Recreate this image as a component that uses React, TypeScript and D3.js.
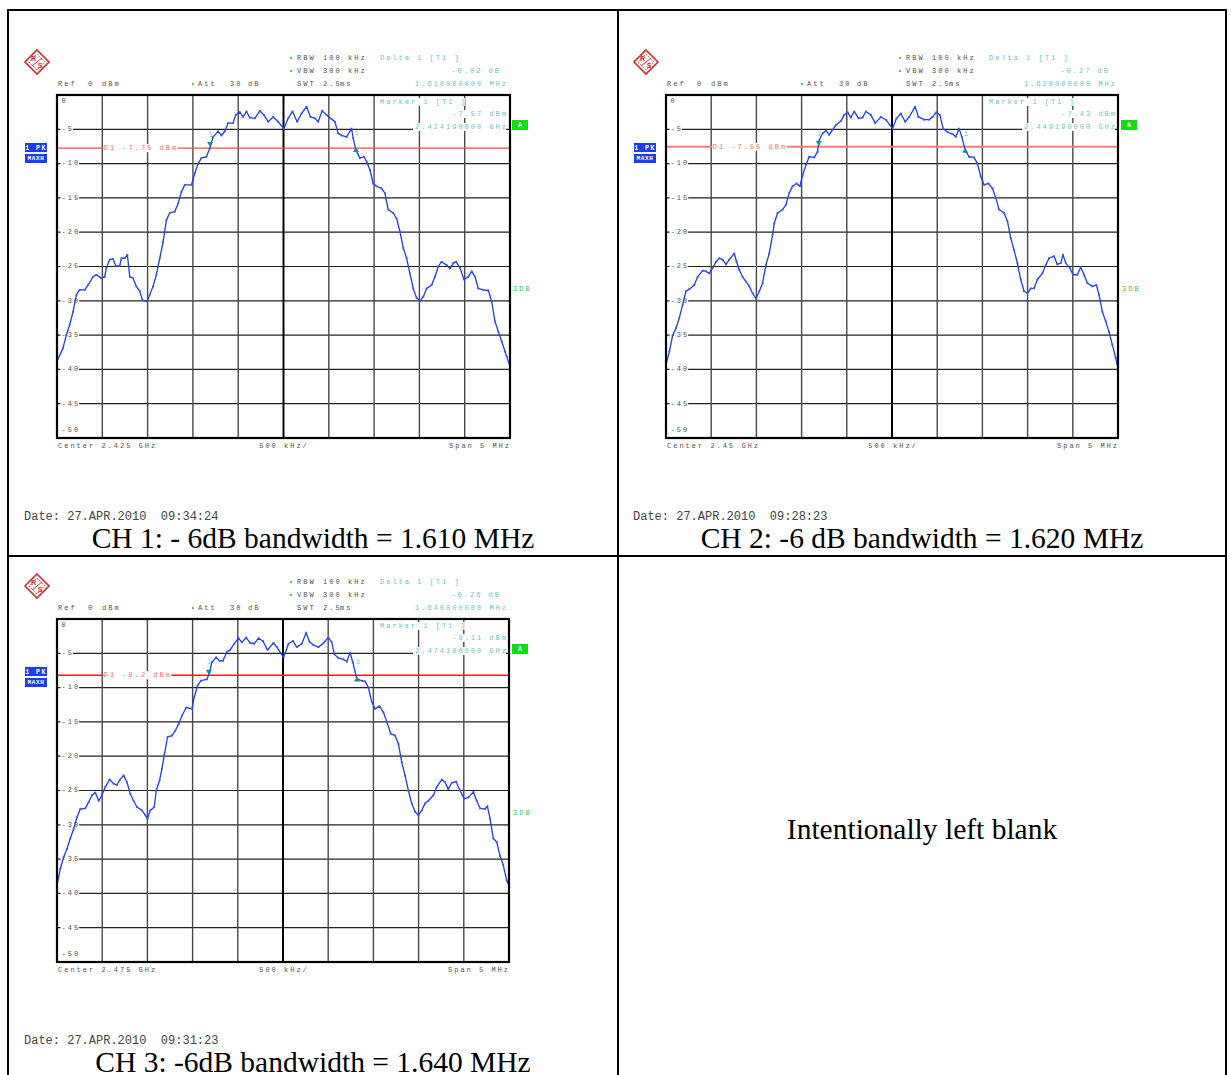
import React from "react";
import * as d3 from "d3";

// ---------------- data ----------------
const Y_TICKS = [0, -5, -10, -15, -20, -25, -30, -35, -40, -45, -50];
const X_DIVS = [-2.5, -2.0, -1.5, -1.0, -0.5, 0, 0.5, 1.0, 1.5, 2.0, 2.5]; // MHz offset, 500 kHz/div

const CH1_FREQ = [-2.5, -2.434, -2.397, -2.36, -2.323, -2.286, -2.25, -2.194, -2.158, -2.102, -2.066, -2.01, -1.973, -1.955, -1.919, -1.881, -1.852, -1.808, -1.789, -1.753, -1.723, -1.697, -1.661, -1.624, -1.587, -1.557, -1.506, -1.476, -1.44, -1.403, -1.366, -1.329, -1.292, -1.256, -1.2, -1.163, -1.126, -1.09, -1.016, -0.979, -0.943, -0.906, -0.851, -0.814, -0.777, -0.722, -0.685, -0.648, -0.611, -0.556, -0.527, -0.482, -0.446, -0.409, -0.372, -0.317, -0.261, -0.217, -0.169, -0.114, -0.059, 0.004, 0.052, 0.099, 0.151, 0.199, 0.254, 0.298, 0.346, 0.383, 0.427, 0.475, 0.53, 0.567, 0.604, 0.641, 0.696, 0.751, 0.769, 0.799, 0.843, 0.887, 0.917, 0.954, 0.99, 1.027, 1.082, 1.119, 1.156, 1.211, 1.248, 1.285, 1.322, 1.359, 1.395, 1.432, 1.469, 1.506, 1.543, 1.58, 1.635, 1.672, 1.708, 1.745, 1.8, 1.837, 1.874, 1.904, 1.948, 1.992, 2.04, 2.077, 2.114, 2.15, 2.205, 2.261, 2.298, 2.334, 2.371, 2.408, 2.445, 2.463, 2.5];
const CH1_LEVEL = [-38.8, -36.9, -35.0, -33.5, -31.6, -29.1, -28.4, -28.4, -27.7, -26.5, -26.2, -26.7, -26.5, -25.2, -24.0, -23.9, -24.9, -24.9, -23.8, -23.8, -23.3, -26.5, -26.7, -27.9, -28.6, -29.9, -30.1, -29.1, -27.9, -26.2, -23.8, -21.4, -18.2, -17.2, -17.0, -15.8, -14.1, -13.1, -13.1, -11.4, -10.0, -9.2, -9.0, -7.8, -6.1, -5.3, -5.9, -5.3, -4.1, -4.1, -2.9, -2.5, -3.2, -2.4, -3.3, -3.4, -2.3, -2.9, -3.9, -3.2, -3.9, -4.9, -3.4, -2.4, -3.9, -2.7, -1.7, -3.2, -3.4, -3.9, -2.3, -2.9, -3.5, -3.9, -5.6, -5.9, -6.1, -4.9, -6.3, -8.0, -9.2, -9.0, -9.7, -10.9, -12.9, -13.3, -13.6, -14.3, -16.7, -17.2, -18.0, -19.9, -22.3, -23.8, -26.0, -28.2, -29.6, -30.0, -29.4, -28.2, -27.7, -26.5, -25.0, -24.3, -24.8, -25.3, -24.5, -24.3, -25.2, -26.9, -26.5, -25.7, -26.5, -28.2, -28.4, -28.5, -30.1, -33.0, -34.5, -35.9, -37.4, -38.1, -39.6];

const CH2_FREQ = [-2.5, -2.463, -2.426, -2.389, -2.353, -2.316, -2.279, -2.242, -2.187, -2.15, -2.095, -2.058, -2.021, -1.984, -1.947, -1.91, -1.874, -1.837, -1.8, -1.745, -1.719, -1.689, -1.653, -1.616, -1.579, -1.542, -1.505, -1.468, -1.431, -1.395, -1.358, -1.321, -1.302, -1.266, -1.21, -1.174, -1.137, -1.1, -1.056, -1.019, -0.989, -0.952, -0.916, -0.86, -0.824, -0.805, -0.768, -0.731, -0.695, -0.658, -0.621, -0.566, -0.529, -0.492, -0.455, -0.418, -0.37, -0.326, -0.289, -0.234, -0.186, -0.123, -0.068, 0.006, 0.05, 0.098, 0.146, 0.19, 0.256, 0.293, 0.356, 0.411, 0.448, 0.492, 0.529, 0.566, 0.613, 0.669, 0.706, 0.742, 0.772, 0.809, 0.853, 0.908, 0.945, 0.982, 1.019, 1.067, 1.111, 1.148, 1.185, 1.24, 1.277, 1.314, 1.35, 1.387, 1.424, 1.461, 1.498, 1.535, 1.571, 1.608, 1.664, 1.7, 1.737, 1.793, 1.829, 1.866, 1.892, 1.922, 1.966, 2.003, 2.051, 2.087, 2.124, 2.161, 2.216, 2.261, 2.29, 2.327, 2.364, 2.4, 2.437, 2.474, 2.5];
const CH2_LEVEL = [-39.3, -37.4, -35.0, -34.0, -32.5, -30.6, -28.6, -28.3, -27.7, -26.5, -25.6, -25.7, -26.0, -25.2, -24.3, -23.8, -24.0, -24.7, -24.0, -23.1, -24.3, -25.5, -26.5, -27.2, -27.9, -28.9, -29.7, -28.6, -27.4, -24.8, -23.1, -20.4, -18.7, -17.2, -16.7, -16.0, -14.3, -13.3, -12.9, -13.3, -11.7, -10.2, -9.0, -9.1, -8.3, -6.6, -5.6, -5.2, -5.8, -5.1, -4.4, -3.8, -2.9, -2.5, -3.3, -2.4, -3.4, -3.3, -2.4, -2.9, -4.1, -3.2, -3.6, -4.9, -3.4, -2.7, -3.9, -3.2, -1.7, -3.2, -3.6, -3.6, -3.2, -2.5, -2.9, -4.9, -5.4, -5.7, -6.1, -4.9, -6.1, -8.0, -9.0, -9.1, -10.0, -11.9, -13.1, -12.9, -13.6, -15.0, -16.7, -17.2, -18.4, -20.9, -22.6, -24.5, -26.9, -28.6, -28.9, -28.2, -28.2, -26.9, -26.0, -24.8, -23.8, -23.5, -24.7, -24.5, -23.3, -24.5, -25.2, -26.2, -26.2, -25.1, -26.2, -27.4, -27.9, -27.7, -29.1, -31.6, -33.0, -34.5, -36.4, -38.3, -39.8];

const CH3_FREQ = [-2.5, -2.463, -2.426, -2.389, -2.353, -2.316, -2.279, -2.242, -2.187, -2.15, -2.113, -2.076, -2.039, -2.003, -1.966, -1.918, -1.874, -1.837, -1.807, -1.763, -1.726, -1.689, -1.653, -1.616, -1.56, -1.524, -1.498, -1.468, -1.424, -1.402, -1.365, -1.339, -1.314, -1.277, -1.229, -1.192, -1.155, -1.118, -1.07, -1.008, -0.982, -0.945, -0.908, -0.842, -0.812, -0.787, -0.739, -0.702, -0.665, -0.621, -0.584, -0.54, -0.492, -0.455, -0.407, -0.363, -0.319, -0.271, -0.223, -0.171, -0.105, -0.068, 0.006, 0.061, 0.109, 0.153, 0.208, 0.256, 0.293, 0.337, 0.392, 0.448, 0.503, 0.54, 0.566, 0.613, 0.669, 0.706, 0.742, 0.772, 0.816, 0.871, 0.908, 0.945, 0.982, 1.019, 1.067, 1.111, 1.148, 1.192, 1.24, 1.277, 1.314, 1.35, 1.387, 1.424, 1.461, 1.498, 1.535, 1.571, 1.608, 1.664, 1.7, 1.756, 1.793, 1.829, 1.866, 1.914, 1.958, 2.003, 2.051, 2.106, 2.143, 2.179, 2.235, 2.261, 2.29, 2.327, 2.364, 2.4, 2.437, 2.474, 2.5];
const CH3_LEVEL = [-38.8, -36.4, -34.7, -33.5, -32.0, -30.6, -28.9, -27.7, -27.6, -26.7, -25.7, -25.3, -26.5, -25.7, -24.5, -23.4, -24.0, -24.2, -23.5, -22.8, -23.8, -25.5, -26.5, -27.4, -27.9, -28.6, -29.1, -27.9, -27.4, -25.0, -23.5, -21.8, -19.9, -17.2, -17.0, -16.3, -15.3, -14.1, -12.9, -13.1, -11.4, -9.7, -9.0, -8.8, -7.8, -6.3, -5.6, -6.1, -6.1, -4.8, -4.5, -3.6, -2.8, -3.4, -2.7, -3.5, -3.6, -2.8, -3.2, -4.5, -3.5, -4.1, -5.6, -3.6, -3.2, -4.1, -3.6, -2.0, -3.3, -3.8, -4.1, -3.5, -2.7, -3.4, -5.1, -5.7, -5.9, -6.2, -4.9, -6.3, -8.7, -9.0, -9.1, -10.0, -12.1, -13.1, -12.7, -13.6, -15.0, -16.7, -17.0, -18.2, -20.9, -22.8, -25.0, -26.9, -28.1, -28.6, -27.9, -26.9, -26.5, -25.7, -24.5, -23.4, -23.8, -24.8, -23.9, -23.7, -25.0, -26.2, -26.0, -25.2, -26.5, -27.6, -27.7, -27.3, -29.1, -32.0, -32.5, -34.5, -35.9, -38.1, -38.8];

const CENTER_LABELS = ["Center 2.425 GHz", "Center 2.45 GHz", "Center 2.475 GHz"];
const DELTA_DB = ["-0.02 dB", "-0.27 dB", "-0.26 dB"];
const DELTA_FREQ = ["1.610000000 MHz", "1.620000000 MHz", "1.640000000 MHz"];
const MARKER_LEVEL_TXT = ["-7.57 dBm", "-7.43 dBm", "-8.11 dBm"];
const MARKER_FREQ_TXT = ["2.424190000 GHz", "2.449190000 GHz", "2.474180000 GHz"];
const MARKER_FREQ = [-0.81, -0.81, -0.82]; // MHz offset from center
const MARKER_LEVEL = [-7.57, -7.43, -8.11];
const DELTA_OFFSET = [1.61, 1.62, 1.64];
const DELTA_LEVEL = [-0.02, -0.27, -0.26];
const DISPLAY_LINE = [-7.75, -7.55, -8.2];
const DISPLAY_LINE_TXT = ["D1 -7.75 dBm", "D1 -7.55 dBm", "D1 -8.2 dBm"];
const DATES = ["Date: 27.APR.2010  09:34:24", "Date: 27.APR.2010  09:28:23", "Date: 27.APR.2010  09:31:23"];
const CAPTIONS = ["CH 1: - 6dB bandwidth = 1.610 MHz", "CH 2: -6 dB bandwidth = 1.620 MHz", "CH 3: -6dB bandwidth = 1.640 MHz"];

// ---------------- styles ----------------
const MONO = "'Liberation Mono', 'DejaVu Sans Mono', monospace";
const SERIF = "'Liberation Serif', 'Times New Roman', serif";
const GREY = "#505050";
const TEAL_TXT = "#66c4c4";
const FS = 7;
const LS = 2.0;
const CW = FS * 0.6 + LS; // small char advance

function Small({ x, y, children, anchor = "start", fill = GREY, weight = "normal" }: any) {
  const dx = anchor === "end" ? LS : anchor === "middle" ? LS / 2 : 0;
  return (
    <text x={x + dx} y={y} fontSize={FS} letterSpacing={LS} fontFamily={MONO} fill={fill}
      dominantBaseline="middle" textAnchor={anchor} fontWeight={weight} style={{ whiteSpace: "pre" }}>
      {children}
    </text>
  );
}

function Logo({ cx, cy }: any) {
  const r = 12;
  const c = "#d42a2a";
  return (
    <g>
      <polygon points={`${cx},${cy - r} ${cx + r},${cy} ${cx},${cy + r} ${cx - r},${cy}`} fill="none" stroke={c} strokeWidth={1.6} />
      <polygon points={`${cx},${cy - r + 4} ${cx + r - 4},${cy} ${cx},${cy + r - 4} ${cx - r + 4},${cy}`} fill="none" stroke={c} strokeWidth={0.8} strokeDasharray="1.5 1" />
      <text x={cx - 3.5} y={cy - 1.5} fontSize={7} fontFamily="'Liberation Sans', sans-serif" fontWeight="bold" fill={c} textAnchor="middle">R</text>
      <text x={cx + 3} y={cy + 6} fontSize={7} fontFamily="'Liberation Sans', sans-serif" fontWeight="bold" fill={c} textAnchor="middle">S</text>
      <line x1={cx - 5} y1={cy + 4} x2={cx + 5} y2={cy - 4} stroke={c} strokeWidth={1} />
    </g>
  );
}

function Panel({ idx, left, top, width, height, freq, level, lineColor, lineWidth }: any) {
  const x = d3.scaleLinear().domain([-2.5, 2.5]).range([left, left + width]);
  const y = d3.scaleLinear().domain([0, -50]).range([top, top + height]);
  const pts: [number, number][] = freq.map((f: number, i: number) => [f, level[i]]);
  const path = d3.line<[number, number]>().x((d) => x(d[0])).y((d) => y(d[1]))(pts) || "";
  const R = left + 449;

  const mx = x(MARKER_FREQ[idx]);
  const my = y(MARKER_LEVEL[idx]);
  const dxm = x(MARKER_FREQ[idx] + DELTA_OFFSET[idx]);
  const dym = y(MARKER_LEVEL[idx] + DELTA_LEVEL[idx]);
  const dl = y(DISPLAY_LINE[idx]);
  const dlTxt = DISPLAY_LINE_TXT[idx];
  const mColor = "#178f8f";

  return (
    <g>
      <Logo cx={left - 20} cy={top - 33} />
      {/* header */}
      <Small x={left + 1} y={top - 11}>Ref</Small>
      <Small x={left + 31} y={top - 11}>0</Small>
      <Small x={left + 45} y={top - 11}>dBm</Small>
      <circle cx={left + 136} cy={top - 11} r={1} fill="#22bb22" />
      <Small x={left + 141} y={top - 11}>Att</Small>
      <Small x={left + 173} y={top - 11}>30</Small>
      <Small x={left + 191} y={top - 11}>dB</Small>
      <circle cx={left + 234} cy={top - 37} r={1} fill="#22bb22" />
      <circle cx={left + 234} cy={top - 24} r={1} fill="#22bb22" />
      <Small x={left + 240} y={top - 37}>RBW</Small>
      <Small x={left + 266} y={top - 37}>100</Small>
      <Small x={left + 291} y={top - 37}>kHz</Small>
      <Small x={left + 240} y={top - 24}>VBW</Small>
      <Small x={left + 266} y={top - 24}>300</Small>
      <Small x={left + 291} y={top - 24}>kHz</Small>
      <Small x={left + 240} y={top - 11}>SWT</Small>
      <Small x={left + 266} y={top - 11}>2.5</Small>
      <Small x={left + 283} y={top - 11}>ms</Small>
      <Small x={left + 323} y={top - 37} fill={TEAL_TXT}>{"Delta 1 [T1 ]"}</Small>
      <Small x={left + 442} y={top - 24} fill={TEAL_TXT} anchor="end">{DELTA_DB[idx]}</Small>
      <Small x={R} y={top - 11} fill={TEAL_TXT} anchor="end">{DELTA_FREQ[idx]}</Small>

      {/* grid */}
      {Y_TICKS.slice(1, -1).map((t) => (
        <line key={"h" + t} x1={left} x2={left + width} y1={y(t)} y2={y(t)} stroke="#222" strokeWidth={1.2} />
      ))}
      {X_DIVS.slice(1, -1).map((f) => (
        <line key={"v" + f} x1={x(f)} x2={x(f)} y1={top} y2={top + height}
          stroke={f === 0 ? "#000" : "#4a4a4a"} strokeWidth={f === 0 ? 2 : 1.4} />
      ))}

      {/* marker info block */}
      <rect x={left + 321} y={top + 3} width={14 * CW} height={8} fill="#fff" />
      <rect x={R - 9 * CW} y={top + 15} width={9 * CW} height={8} fill="#fff" />
      <rect x={R - 15 * CW} y={top + 28} width={15 * CW} height={8} fill="#fff" />
      <Small x={left + 323} y={top + 7} fill={TEAL_TXT}>{"Marker 1 [T1 ]"}</Small>
      <Small x={R} y={top + 19} fill={TEAL_TXT} anchor="end">{MARKER_LEVEL_TXT[idx]}</Small>
      <Small x={R} y={top + 32} fill={TEAL_TXT} anchor="end">{MARKER_FREQ_TXT[idx]}</Small>

      {/* y labels */}
      {Y_TICKS.map((t) => {
        const ty = t === 0 ? top + 6.5 : t === -50 ? top + height - 8 : y(t);
        const s = String(t);
        return (
          <g key={"yl" + t}>
            {t !== 0 && t !== -50 && <rect x={left + 3.5} y={ty - 3.5} width={s.length * CW} height={7} fill="#fff" />}
            <Small x={left + 4.5} y={ty}>{s}</Small>
          </g>
        );
      })}

      {/* display line */}
      <line x1={left} x2={left + width} y1={dl} y2={dl} stroke={lineColor} strokeWidth={lineWidth} />
      <rect x={x(-2.0) + 1} y={dl - 4} width={dlTxt.length * CW} height={8} fill="#fff" />
      <Small x={x(-2.0) + 1.5} y={dl} fill="#ff6a6a">{dlTxt}</Small>

      {/* trace */}
      <path d={path} fill="none" stroke="#1f3cf2" strokeWidth={1.3} strokeLinejoin="round" />
      {pts.map((d, i) => (
        <rect key={"p" + i} x={x(d[0]) - 0.9} y={y(d[1]) - 0.9} width={1.8} height={1.8} fill="#3a55ff" />
      ))}

      {/* markers */}
      <polygon points={`${mx - 3},${my - 5} ${mx + 3},${my - 5} ${mx},${my}`} fill={mColor} />
      <Small x={mx - 1.5} y={my - 12} fill="#6cc6c6">1</Small>
      <polygon points={`${dxm - 3},${dym + 5} ${dxm + 3},${dym + 5} ${dxm},${dym}`} fill={mColor} />
      <Small x={dxm - 1.5} y={dym - 14} fill="#6cc6c6">1</Small>

      {/* border */}
      <rect x={left} y={top} width={width} height={height} fill="none" stroke="#000" strokeWidth={2.2} />

      {/* side labels */}
      <rect x={left - 32} y={top + 48} width={22} height={9} fill="#1e3cf0" />
      <text x={left - 21} y={top + 52.8} fontSize={6.5} fontFamily={MONO} fill="#fff" textAnchor="middle" dominantBaseline="middle" fontWeight="bold" letterSpacing={1.5}>1 PK</text>
      <rect x={left - 32} y={top + 59} width={22} height={9} fill="#1e3cf0" />
      <text x={left - 21} y={top + 63.8} fontSize={6} fontFamily={MONO} fill="#fff" textAnchor="middle" dominantBaseline="middle" fontWeight="bold" letterSpacing={0.6}>MAXH</text>
      <rect x={left + 455} y={top + 25} width={16} height={10} fill="#11dd11" />
      <text x={left + 463} y={top + 30.5} fontSize={6.5} fontFamily={MONO} fill="#fff" textAnchor="middle" dominantBaseline="middle" fontWeight="bold">A</text>
      <Small x={left + 456} y={top + 194} fill="#33cc33">3DB</Small>

      {/* bottom labels */}
      <Small x={left + 1} y={top + 351}>{CENTER_LABELS[idx]}</Small>
      <Small x={left + 226} y={top + 351} anchor="middle">500 kHz/</Small>
      <Small x={left + width - 1} y={top + 351} anchor="end">Span 5 MHz</Small>

      {/* date */}
      <text x={left - 33} y={top + 425} fontSize={12} fontFamily={MONO} fill="#444" style={{ whiteSpace: "pre" }}>
        {DATES[idx]}
      </text>
    </g>
  );
}

export default function App() {
  const cells = [
    { left: 57, top: 95, width: 453, cap: 313, capY: 548, freq: CH1_FREQ, level: CH1_LEVEL, lineColor: "#f24a4a", lineWidth: 1.4 },
    { left: 666, top: 95, width: 452, cap: 922, capY: 548, freq: CH2_FREQ, level: CH2_LEVEL, lineColor: "#ff7a7a", lineWidth: 2 },
    { left: 57, top: 619, width: 452, cap: 313, capY: 1072, freq: CH3_FREQ, level: CH3_LEVEL, lineColor: "#ff1a1a", lineWidth: 1.5 },
  ];
  return (
    <svg width={1231} height={1075} style={{ position: "absolute", left: 0, top: 0, background: "#fff" }}>
      <rect x={0} y={0} width={1231} height={1075} fill="#fff" />
      {cells.map((c, i) => (
        <g key={i}>
          <Panel idx={i} left={c.left} top={c.top} width={c.width} height={343} freq={c.freq} level={c.level}
            lineColor={c.lineColor} lineWidth={c.lineWidth} />
          <text x={c.cap} y={c.capY} fontSize={29.5} fontFamily={SERIF} textAnchor="middle" fill="#000">{CAPTIONS[i]}</text>
        </g>
      ))}
      <text x={922} y={839} fontSize={29.5} fontFamily={SERIF} textAnchor="middle" fill="#000">Intentionally left blank</text>
      {/* table borders */}
      <line x1={7} x2={1227} y1={10} y2={10} stroke="#000" strokeWidth={2} />
      <line x1={7} x2={1227} y1={556} y2={556} stroke="#000" strokeWidth={2} />
      <line x1={8} x2={8} y1={9} y2={1075} stroke="#000" strokeWidth={2} />
      <line x1={618} x2={618} y1={9} y2={1075} stroke="#000" strokeWidth={2} />
      <line x1={1226} x2={1226} y1={9} y2={1075} stroke="#000" strokeWidth={2} />
    </svg>
  );
}
